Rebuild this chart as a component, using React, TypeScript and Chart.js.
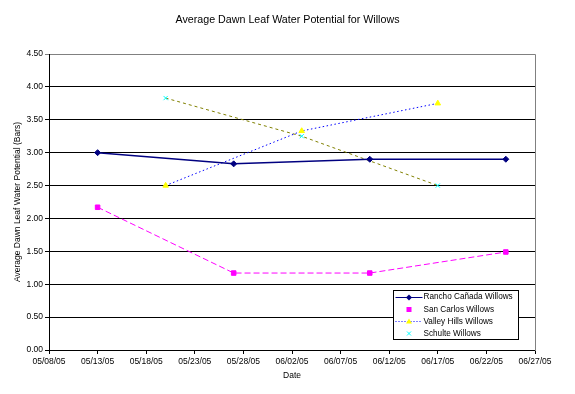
import React, { useEffect, useRef } from 'react';
import { Chart, registerables } from 'chart.js';

Chart.register(...registerables);

// ---- Data ----
const chartTitle = 'Average Dawn Leaf Water Potential for Willows';
const yAxisTitle = 'Average Dawn Leaf Water Potential (Bars)';
const xAxisTitle = 'Date';

const axisStartDate = '05/08/05';
const axisEndDate = '06/27/05';
const xTickStepDays = 5;

const yMin = 0;
const yMax = 4.5;
const yStep = 0.5;

const seriesNames = [
  'Rancho Cañada Willows',
  'San Carlos Willows',
  'Valley Hills Willows',
  'Schulte Willows',
];

const ranchoDates = ['05/13/05', '05/27/05', '06/10/05', '06/24/05'];
const ranchoValues = [3.0, 2.83, 2.9, 2.9];

const sanCarlosDates = ['05/13/05', '05/27/05', '06/10/05', '06/24/05'];
const sanCarlosValues = [2.17, 1.17, 1.17, 1.49];

const valleyHillsDates = ['05/20/05', '06/03/05', '06/17/05'];
const valleyHillsValues = [2.5, 3.33, 3.75];

const schulteDates = ['05/20/05', '06/03/05', '06/17/05'];
const schulteValues = [3.83, 3.25, 2.5];

// ---- Helpers ----
const DAY = 86400000;
function parseDate(s: string): number {
  const [m, d, y] = s.split('/').map(Number);
  return Date.UTC(2000 + y, m - 1, d);
}
const baseTime = parseDate(axisStartDate);
function dayOffset(s: string): number {
  return Math.round((parseDate(s) - baseTime) / DAY);
}
function formatDay(v: number): string {
  const dt = new Date(baseTime + v * DAY);
  const mm = String(dt.getUTCMonth() + 1).padStart(2, '0');
  const dd = String(dt.getUTCDate()).padStart(2, '0');
  const yy = String(dt.getUTCFullYear() % 100).padStart(2, '0');
  return `${mm}/${dd}/${yy}`;
}
function toPoints(dates: string[], values: number[]) {
  return dates.map((d, i) => ({ x: dayOffset(d), y: values[i] }));
}

const FONT_FAMILY = '"Liberation Sans", Arial, sans-serif';
const NAVY = '#000080';
const MAGENTA = '#FF00FF';
const BLUE = '#0000FF';
const YELLOW = '#FFFF00';
const OLIVE = '#808000';
const CYAN = '#00FFFF';

// Title centred on the whole canvas
const titlePlugin = {
  id: 'canvasTitle',
  afterDraw(chart: any) {
    const { ctx } = chart;
    ctx.save();
    ctx.font = `10.7px ${FONT_FAMILY}`;
    ctx.fillStyle = '#000000';
    ctx.textAlign = 'center';
    ctx.textBaseline = 'middle';
    ctx.fillText(chartTitle, chart.width / 2, 20);
    ctx.restore();
  },
};

// Gray plot-area border on the top and right
const borderPlugin = {
  id: 'plotBorder',
  beforeDatasetsDraw(chart: any) {
    const { ctx, chartArea } = chart;
    ctx.save();
    ctx.strokeStyle = '#808080';
    ctx.lineWidth = 1;
    ctx.beginPath();
    const x = Math.round(chartArea.right) + 0.5;
    const yt = Math.round(chartArea.top) + 0.5;
    ctx.moveTo(Math.round(chartArea.left) + 1, yt);
    ctx.lineTo(x, yt);
    ctx.lineTo(x, Math.round(chartArea.bottom) + 1);
    ctx.stroke();
    ctx.restore();
  },
};

function drawMarker(ctx: CanvasRenderingContext2D, kind: string, x: number, y: number) {
  ctx.save();
  ctx.setLineDash([]);
  if (kind === 'diamond') {
    ctx.fillStyle = NAVY;
    ctx.beginPath();
    ctx.moveTo(x, y - 3);
    ctx.lineTo(x + 3, y);
    ctx.lineTo(x, y + 3);
    ctx.lineTo(x - 3, y);
    ctx.closePath();
    ctx.fill();
  } else if (kind === 'square') {
    ctx.fillStyle = MAGENTA;
    ctx.fillRect(x - 2.5, y - 2.5, 5, 5);
  } else if (kind === 'triangle') {
    ctx.fillStyle = YELLOW;
    ctx.beginPath();
    ctx.moveTo(x, y - 3);
    ctx.lineTo(x + 3, y + 2);
    ctx.lineTo(x - 3, y + 2);
    ctx.closePath();
    ctx.fill();
  } else if (kind === 'x') {
    ctx.strokeStyle = CYAN;
    ctx.lineWidth = 1;
    ctx.beginPath();
    ctx.moveTo(x - 2, y - 2);
    ctx.lineTo(x + 2, y + 2);
    ctx.moveTo(x + 2, y - 2);
    ctx.lineTo(x - 2, y + 2);
    ctx.stroke();
  }
  ctx.restore();
}

const legendStyles = [
  { line: NAVY, dash: [] as number[], marker: 'diamond' },
  { line: null, dash: [] as number[], marker: 'square' },
  { line: BLUE, dash: [1, 2], marker: 'triangle' },
  { line: null, dash: [] as number[], marker: 'x' },
];

const legendPlugin = {
  id: 'insetLegend',
  afterDraw(chart: any) {
    const { ctx, chartArea } = chart;
    const bw = 125;
    const bh = 49;
    const bx = Math.round(chartArea.right) - 17 - bw + 0.5;
    const by = Math.round(chartArea.bottom) - 11 - bh + 0.5;
    ctx.save();
    ctx.fillStyle = '#FFFFFF';
    ctx.fillRect(bx, by, bw, bh);
    ctx.strokeStyle = '#000000';
    ctx.lineWidth = 1;
    ctx.strokeRect(bx, by, bw, bh);
    ctx.font = `8.2px ${FONT_FAMILY}`;
    ctx.textBaseline = 'middle';
    ctx.textAlign = 'left';
    seriesNames.forEach((name, i) => {
      const st = legendStyles[i];
      const cy = by + 6 + i * 12.3;
      if (st.line) {
        ctx.strokeStyle = st.line;
        ctx.lineWidth = 1;
        ctx.setLineDash(st.dash);
        ctx.beginPath();
        ctx.moveTo(bx + 2, Math.round(cy) + 0.5);
        ctx.lineTo(bx + 29, Math.round(cy) + 0.5);
        ctx.stroke();
        ctx.setLineDash([]);
      }
      drawMarker(ctx, st.marker, bx + 15.5, Math.round(cy) + 0.5);
      ctx.fillStyle = '#000000';
      ctx.fillText(name, bx + 30, cy + 0.5);
    });
    ctx.restore();
  },
};

export default function App() {
  const canvasRef = useRef<HTMLCanvasElement | null>(null);

  useEffect(() => {
    if (!canvasRef.current) return;
    Chart.defaults.font.family = FONT_FAMILY;
    Chart.defaults.color = '#000000';

    const tickFont = { size: 8.5, family: FONT_FAMILY };

    const chart = new Chart(canvasRef.current, {
      type: 'line',
      data: {
        datasets: [
          {
            label: seriesNames[0],
            data: toPoints(ranchoDates, ranchoValues),
            borderColor: NAVY,
            backgroundColor: NAVY,
            borderWidth: 1.5,
            pointStyle: 'rectRot',
            pointRadius: 3,
            pointBackgroundColor: NAVY,
            pointBorderColor: NAVY,
            pointBorderWidth: 1,
            tension: 0,
          },
          {
            label: seriesNames[1],
            data: toPoints(sanCarlosDates, sanCarlosValues),
            borderColor: MAGENTA,
            backgroundColor: MAGENTA,
            borderWidth: 1,
            borderDash: [6, 3],
            pointStyle: 'rect',
            pointRadius: 3.2,
            pointBackgroundColor: MAGENTA,
            pointBorderColor: MAGENTA,
            pointBorderWidth: 1,
            tension: 0,
          },
          {
            label: seriesNames[2],
            data: toPoints(valleyHillsDates, valleyHillsValues),
            borderColor: BLUE,
            backgroundColor: YELLOW,
            borderWidth: 1,
            borderDash: [1.5, 2.5],
            pointStyle: 'triangle',
            pointRadius: 3.2,
            pointBackgroundColor: YELLOW,
            pointBorderColor: YELLOW,
            pointBorderWidth: 1,
            tension: 0,
          },
          {
            label: seriesNames[3],
            data: toPoints(schulteDates, schulteValues),
            borderColor: OLIVE,
            backgroundColor: CYAN,
            borderWidth: 1,
            borderDash: [3, 3],
            pointStyle: 'crossRot',
            pointRadius: 3,
            pointBackgroundColor: CYAN,
            pointBorderColor: CYAN,
            pointBorderWidth: 1,
            tension: 0,
          },
        ],
      },
      options: {
        responsive: false,
        animation: false,
        devicePixelRatio: 1,
        layout: { padding: { left: 0, right: 40, top: 54, bottom: 0 } },
        plugins: {
          legend: { display: false },
          tooltip: { enabled: false },
          title: { display: false },
        },
        scales: {
          x: {
            type: 'linear',
            min: dayOffset(axisStartDate),
            max: dayOffset(axisEndDate),
            ticks: {
              stepSize: xTickStepDays,
              autoSkip: false,
              maxRotation: 0,
              minRotation: 0,
              padding: 3,
              font: tickFont,
              color: '#000000',
              callback: (v: any) => formatDay(Number(v)),
            },
            grid: {
              drawOnChartArea: false,
              drawTicks: true,
              tickLength: 4,
              color: '#000000',
              lineWidth: 1,
            },
            border: { color: '#000000', width: 1 },
            title: {
              display: true,
              text: xAxisTitle,
              color: '#000000',
              font: tickFont,
              padding: { top: 0, bottom: 13 },
            },
            afterFit: (scale: any) => {
              scale.height = 44;
            },
          },
          y: {
            min: yMin,
            max: yMax,
            ticks: {
              stepSize: yStep,
              padding: 2,
              font: tickFont,
              color: '#000000',
              callback: (v: any) => Number(v).toFixed(2),
            },
            grid: {
              color: (c: any) => (c.tick && Math.abs(c.tick.value - yMax) < 1e-9 ? '#808080' : '#000000'),
              tickLength: 4,
              lineWidth: 1,
            },
            border: { color: '#000000', width: 1 },
            title: {
              display: true,
              text: yAxisTitle,
              color: '#000000',
              font: tickFont,
              padding: { top: 13, bottom: 0 },
            },
            afterFit: (scale: any) => {
              scale.width = 49;
            },
          },
        },
      },
      plugins: [borderPlugin, legendPlugin, titlePlugin],
    });

    return () => {
      chart.destroy();
    };
  }, []);

  return (
    <div style={{ position: 'absolute', left: 0, top: 0, width: 575, height: 394, background: '#FFFFFF' }}>
      <canvas ref={canvasRef} width={575} height={394} style={{ display: 'block' }} />
    </div>
  );
}
